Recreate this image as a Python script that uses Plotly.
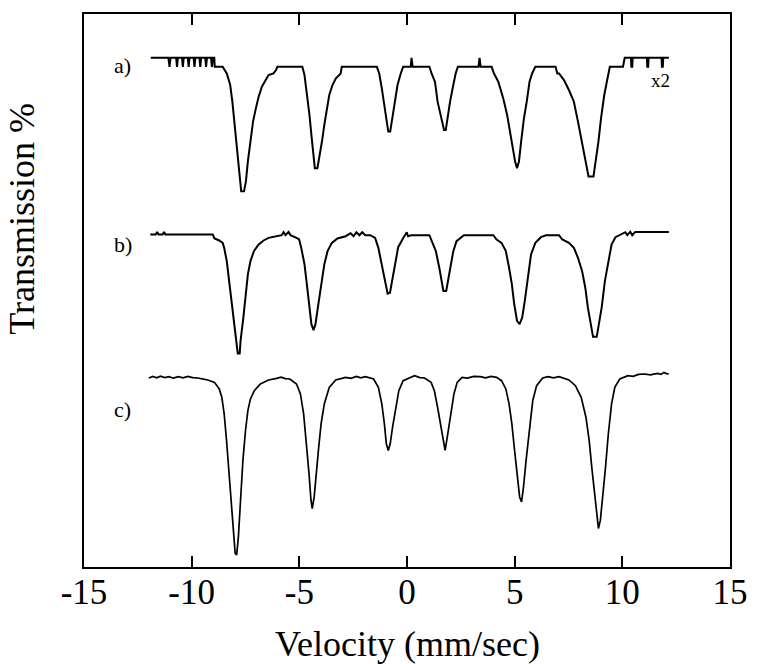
import plotly.graph_objects as go

# Mossbauer spectra: velocity (mm/s) and relative transmission (%) for samples a), b), c)
vel_a = [-11.90, -11.08, -11.03, -10.98, -10.72, -10.68, -10.64, -10.45, -10.41, -10.37,
         -10.18, -10.14, -10.10, -9.91, -9.87, -9.83, -9.64, -9.60, -9.56, -9.37,
         -9.33, -9.29, -9.10, -9.06, -9.02, -8.95, -8.93, -8.56,
         -8.37, -8.21, -8.11, -8.00, -7.88, -7.77, -7.70, -7.57, -7.48, -7.39,
         -7.27, -7.15, -7.02, -6.89, -6.74, -6.58, -6.43, -6.20, -6.08, -6.02, -4.86,
         -4.76, -4.65, -4.53, -4.44, -4.34, -4.28, -4.16, -4.07, -3.95, -3.84,
         -3.73, -3.61, -3.46, -3.31, -3.08, -3.03, -1.40,
         -1.29, -1.17, -1.05, -0.93, -0.87, -0.78, -0.69, -0.56, -0.44, -0.29,
         -0.18, 0.17, 0.21, 0.26, 1.04,
         1.14, 1.30, 1.42, 1.57, 1.72, 1.80, 1.87, 2.00, 2.15, 2.26, 2.36,
         3.32, 3.37, 3.42, 3.93,
         4.04, 4.24, 4.47, 4.65, 4.80, 4.92, 5.02, 5.11, 5.20, 5.30, 5.43,
         5.56, 5.69, 5.81, 5.96, 6.90, 6.98,
         7.06, 7.29, 7.52, 7.75, 7.94, 8.13, 8.28, 8.43, 8.66, 8.77, 8.89,
         9.01, 9.16, 9.31, 9.42, 10.03, 10.11, 10.40, 10.42, 10.46, 10.48,
         11.14, 11.16, 11.20, 11.22, 11.82, 11.84, 11.88, 11.90, 12.16]
trans_a = [100.9, 100.9, 100.0, 100.9, 100.9, 100.0, 100.9, 100.9, 100.0, 100.9,
           100.9, 100.0, 100.9, 100.9, 100.0, 100.9, 100.9, 100.0, 100.9, 100.9,
           100.0, 100.9, 100.9, 100.0, 100.9, 100.9, 100.0, 100.0,
           99.33, 98.17, 96.5, 94.17, 91.5, 88.83, 87.5, 87.5, 88.5, 90.5,
           92.83, 94.5, 95.83, 97.0, 98.0, 98.67, 99.17, 99.33, 99.67, 100.0, 100.0,
           99.17, 97.5, 95.17, 93.17, 91.17, 89.83, 89.83, 90.83, 92.5, 94.17,
           95.83, 97.17, 98.17, 98.83, 99.33, 100.0, 100.0,
           99.33, 97.83, 96.17, 94.5, 93.5, 93.5, 94.83, 96.83, 98.17, 99.33,
           100.0, 100.0, 100.9, 100.0, 100.0,
           99.33, 98.5, 96.5, 95.17, 93.67, 93.67, 94.83, 96.5, 98.17, 99.33, 100.0,
           100.0, 100.9, 100.0, 100.0,
           99.33, 98.5, 96.83, 95.17, 93.17, 91.5, 90.5, 89.83, 90.5, 92.5, 94.83,
           96.5, 98.5, 99.33, 100.0, 100.0, 99.33,
           99.33, 98.67, 97.67, 96.5, 94.5, 92.5, 90.83, 89.0, 89.0, 90.5, 92.5,
           94.83, 97.17, 98.83, 100.0, 100.0, 100.9, 100.9, 100.0, 100.0, 100.9,
           100.9, 100.0, 100.0, 100.9, 100.9, 100.0, 100.0, 100.9, 100.9]

vel_b = [-11.92, -11.67, -11.60, -11.54, -11.35, -11.28, -11.22, -9.02,
         -8.94, -8.72, -8.56, -8.49, -8.37, -8.26, -8.15, -8.03, -7.94, -7.86,
         -7.77, -7.73, -7.60, -7.50, -7.39, -7.27, -7.11, -6.89, -6.66, -6.43,
         -6.05, -5.82, -5.73, -5.64, -5.50, -5.41, -5.13, -5.01,
         -4.91, -4.76, -4.65, -4.53, -4.44, -4.34, -4.25, -4.14, -3.99, -3.84,
         -3.69, -3.49, -3.23, -2.85, -2.62, -2.48, -2.35, -2.21, -2.08, -1.94,
         -1.71, -1.48, -1.33, -1.17, -1.02, -0.90, -0.79, -0.69, -0.56, -0.41,
         -0.18, -0.01, 0.05, 0.20, 1.04,
         1.14, 1.34, 1.50, 1.60, 1.69, 1.82, 1.91, 2.03, 2.15, 2.30, 2.49,
         2.64, 4.01, 4.16, 4.39, 4.59, 4.74, 4.87, 4.98, 5.11, 5.23, 5.35,
         5.47, 5.61, 5.76, 5.96, 6.22, 6.45, 7.06,
         7.21, 7.52, 7.75, 7.94, 8.13, 8.28, 8.40, 8.52, 8.64, 8.81, 8.92,
         9.04, 9.19, 9.35, 9.50, 9.68, 9.88, 10.14, 10.23, 10.37, 10.46,
         10.60, 10.72, 12.16]
trans_b = [100.0, 100.0, 100.26, 100.0, 100.0, 100.26, 100.0, 100.0,
           99.6, 99.4, 99.16, 98.66, 97.33, 95.33, 93.0, 90.66, 89.0, 88.06,
           88.06, 89.33, 91.66, 94.0, 96.0, 97.33, 98.33, 99.0, 99.4, 99.66,
           99.83, 99.93, 100.23, 99.93, 100.26, 99.93, 99.66, 99.5,
           98.66, 97.0, 95.0, 92.66, 91.0, 90.4, 91.0, 92.66, 95.0, 97.0,
           98.33, 99.16, 99.6, 99.83, 100.13, 99.83, 100.23, 99.93, 100.23, 99.93,
           99.93, 99.66, 98.66, 97.0, 95.33, 94.06, 94.16, 95.33, 96.73, 98.73,
           99.63, 100.23, 99.83, 99.93, 99.93,
           99.4, 98.33, 96.66, 95.33, 94.33, 94.33, 95.33, 97.0, 98.33, 99.33, 99.66,
           99.93, 99.93, 99.5, 99.16, 98.33, 96.66, 95.0, 93.0, 91.33, 91.0, 91.66,
           93.33, 95.66, 98.0, 99.16, 99.73, 99.93, 99.93,
           99.5, 99.16, 98.66, 97.66, 96.33, 94.66, 92.66, 91.0, 89.73, 89.73, 91.0,
           92.66, 95.33, 97.33, 99.0, 99.73, 99.93, 100.23, 99.93, 100.28, 99.93,
           100.26, 100.26, 100.26]

vel_c = [-11.99, -11.80, -11.62, -11.45, -11.25, -11.05, -10.85, -10.62, -10.40,
         -10.18, -9.95, -9.71, -9.45, -9.25, -8.94, -8.72, -8.60, -8.49, -8.38,
         -8.26, -8.15, -8.06, -7.98, -7.91, -7.83, -7.73, -7.62, -7.50, -7.39,
         -7.27, -7.09, -6.81, -6.43, -6.05, -5.85, -5.65, -5.44, -5.13, -4.95,
         -4.80, -4.68, -4.55, -4.46, -4.40, -4.31, -4.22, -4.10, -3.99, -3.84,
         -3.61, -3.31, -2.85, -2.60, -2.35, -2.15, -1.93, -1.55, -1.33, -1.17,
         -1.05, -0.96, -0.87, -0.78, -0.67, -0.53, -0.38, -0.18, 0.12, 0.35,
         0.60, 0.81, 1.12, 1.27, 1.42, 1.57, 1.69, 1.77, 1.87, 2.03, 2.18,
         2.33, 2.56, 2.80, 3.10, 3.40, 3.65, 3.90, 4.16, 4.39, 4.59, 4.74,
         4.87, 4.98, 5.11, 5.23, 5.32, 5.41, 5.53, 5.69, 5.84, 6.02, 6.30,
         6.55, 6.80, 7.06, 7.52, 7.82, 8.09, 8.31, 8.46, 8.58, 8.71, 8.80,
         8.89, 8.98, 9.10, 9.22, 9.35, 9.50, 9.65, 9.88, 10.26, 10.50, 10.75,
         11.02, 11.30, 11.63, 11.80, 11.93, 12.05, 12.16]
trans_c = [99.94, 100.1, 99.96, 100.12, 99.98, 100.08, 99.92, 100.07, 99.95,
           100.1, 99.97, 99.94, 99.82, 99.74, 99.5, 98.84, 98.0, 96.34, 93.67,
           90.34, 87.0, 84.0, 82.34, 82.17, 84.0, 87.67, 91.67, 94.67, 96.67,
           97.84, 98.67, 99.34, 99.74, 99.9, 100.02, 99.88, 99.84, 99.34, 98.34,
           96.34, 93.67, 90.34, 87.67, 86.84, 88.0, 90.34, 93.0, 95.34, 97.34,
           99.0, 99.74, 100.0, 99.9, 100.1, 99.95, 100.07, 99.84, 99.0, 97.34,
           95.34, 93.34, 92.67, 93.34, 95.0, 97.0, 98.67, 99.67, 99.94, 100.17,
           99.98, 99.94, 99.5, 98.67, 97.0, 95.0, 93.67, 92.67, 94.0, 96.34, 98.34,
           99.5, 100.0, 99.92, 100.1, 100.07, 99.95, 100.1, 100.0, 99.67, 98.84, 97.34,
           95.34, 93.0, 90.0, 88.0, 87.5, 89.0, 91.67, 95.0, 97.67, 99.17, 99.94,
           100.08, 99.95, 100.07, 99.74, 99.17, 98.0, 96.0, 93.67, 91.0, 88.34, 86.0,
           84.84, 85.67, 88.0, 91.0, 94.34, 97.34, 99.0, 99.84, 100.17, 100.1, 100.3,
           100.34, 100.25, 100.4, 100.3, 100.5, 100.38, 100.34]

# vertical stacking of the three spectra (baseline position of each curve)
offsets = {"a": 50.2, "b": 33.37, "c": 19.03}

serif = "Times New Roman, Liberation Serif, serif"

fig = go.Figure()
for key, vx, ty, lw in [("a", vel_a, trans_a, 2.0), ("b", vel_b, trans_b, 2.0),
                        ("c", vel_c, trans_c, 1.7)]:
    fig.add_trace(go.Scatter(
        x=vx, y=[offsets[key] + t - 100.0 for t in ty],
        mode="lines", line=dict(color="black", width=lw),
        showlegend=False, hoverinfo="skip"))

labels = [("a)", 0.060, 0.907), ("b)", 0.060, 0.584), ("c)", 0.060, 0.285)]
for txt, px, py in labels:
    fig.add_annotation(text=txt, x=px, y=py, xref="paper", yref="paper",
                       xanchor="center", yanchor="middle", showarrow=False,
                       font=dict(family=serif, size=22, color="black"))
fig.add_annotation(text="x2", x=0.893, y=0.879, xref="paper", yref="paper",
                   xanchor="center", yanchor="middle", showarrow=False,
                   font=dict(family=serif, size=19, color="black"))

fig.add_annotation(text="Transmission %", x=-0.095, y=0.629, xref="paper", yref="paper",
                   xanchor="center", yanchor="middle", textangle=-90, showarrow=False,
                   font=dict(family=serif, size=36, color="black"))
fig.add_annotation(text="Velocity (mm/sec)", x=0.5, y=-0.14, xref="paper", yref="paper",
                   xanchor="center", yanchor="middle", showarrow=False,
                   font=dict(family=serif, size=36, color="black"))

fig.update_xaxes(range=[-15, 15], tickvals=[-15, -10, -5, 0, 5, 10, 15],
                 ticktext=["-15", "-10", "-5", "0", "5", "10", "15"],
                 ticks="inside", ticklen=11, tickwidth=1.5, tickcolor="black",
                 ticklabelstandoff=-7,
                 showline=True, linecolor="black", linewidth=2, mirror="ticks",
                 showgrid=False, zeroline=False,
                 tickfont=dict(family=serif, size=35, color="black"))
fig.update_yaxes(range=[0, 55.5], showticklabels=False, ticks="",
                 showline=True, linecolor="black", linewidth=2, mirror=True,
                 showgrid=False, zeroline=False)

fig.update_layout(width=760, height=664, margin=dict(l=84, r=20, t=12, b=97),
                  paper_bgcolor="white", plot_bgcolor="white")

fig.write_html("out.html")
